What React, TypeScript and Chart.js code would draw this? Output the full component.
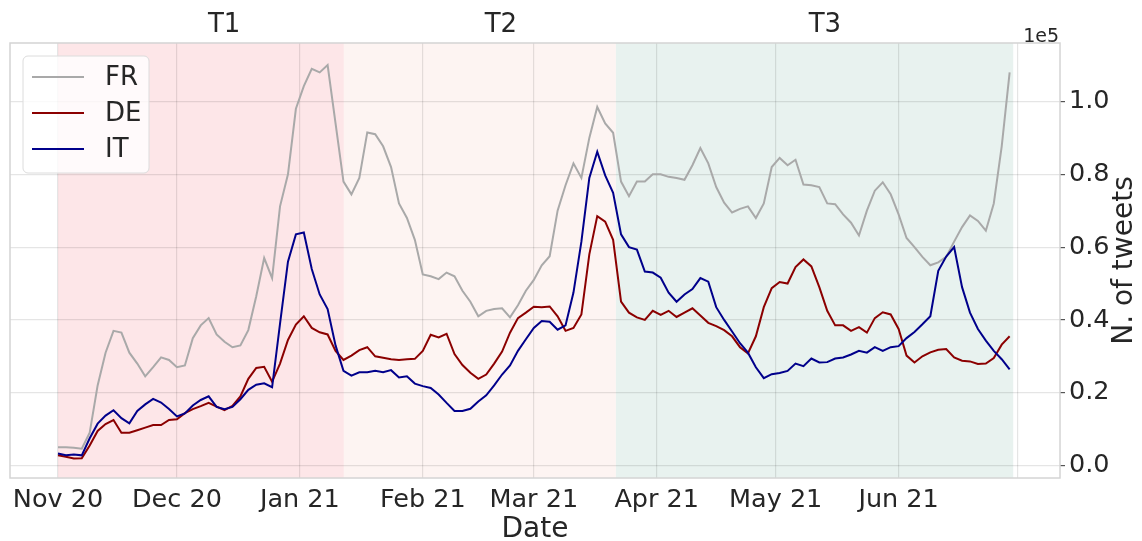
import React, { useEffect, useRef } from "react";
import { Chart, registerables } from "chart.js";

Chart.register(...registerables);

// Days since 1 Nov 2020, sampled every 2 days (values in units of 1e5 tweets)
const DAY_STEP = 2;

const FR = [
  0.050, 0.050, 0.049, 0.046, 0.090, 0.220, 0.310, 0.370, 0.365, 0.310,
  0.280, 0.245, 0.270, 0.297, 0.290, 0.270, 0.275, 0.350, 0.385, 0.405,
  0.360, 0.340, 0.325, 0.330, 0.372, 0.465, 0.570, 0.515, 0.712, 0.800,
  0.980, 1.042, 1.090, 1.080, 1.100, 0.940, 0.780, 0.745, 0.790, 0.915,
  0.910, 0.877, 0.820, 0.720, 0.680, 0.620, 0.525, 0.520, 0.512, 0.530,
  0.520, 0.480, 0.450, 0.410, 0.425, 0.430, 0.432, 0.407, 0.440, 0.480,
  0.510, 0.550, 0.575, 0.700, 0.770, 0.830, 0.790, 0.900, 0.985, 0.940,
  0.914, 0.780, 0.740, 0.780, 0.780, 0.800, 0.800, 0.793, 0.790, 0.785,
  0.825, 0.872, 0.830, 0.765, 0.722, 0.695, 0.705, 0.712, 0.680, 0.720,
  0.820, 0.845, 0.825, 0.840, 0.772, 0.770, 0.765, 0.720, 0.718, 0.690,
  0.667, 0.632, 0.700, 0.755, 0.778, 0.745, 0.690, 0.625, 0.600, 0.573,
  0.550, 0.558, 0.573, 0.615, 0.655, 0.687, 0.672, 0.645, 0.720, 0.877,
  1.080,
];

const DE = [
  0.028, 0.024, 0.019, 0.020, 0.055, 0.095, 0.114, 0.125, 0.090, 0.090,
  0.097, 0.104, 0.111, 0.111, 0.125, 0.127, 0.144, 0.155, 0.163, 0.172,
  0.162, 0.152, 0.164, 0.190, 0.238, 0.268, 0.271, 0.230, 0.280, 0.345,
  0.387, 0.410, 0.378, 0.366, 0.360, 0.315, 0.290, 0.302, 0.317, 0.325,
  0.300, 0.296, 0.292, 0.290, 0.292, 0.293, 0.315, 0.359, 0.352, 0.362,
  0.306, 0.276, 0.255, 0.238, 0.250, 0.280, 0.313, 0.365, 0.405, 0.420,
  0.436, 0.435, 0.437, 0.410, 0.370, 0.378, 0.415, 0.580, 0.685, 0.670,
  0.620, 0.450, 0.420, 0.407, 0.400, 0.425, 0.414, 0.425, 0.408, 0.420,
  0.432, 0.412, 0.392, 0.383, 0.372, 0.355, 0.325, 0.308, 0.355, 0.435,
  0.487, 0.504, 0.500, 0.545, 0.566, 0.547, 0.490, 0.425, 0.385, 0.385,
  0.370, 0.380, 0.365, 0.405, 0.421, 0.415, 0.375, 0.302, 0.283, 0.300,
  0.311, 0.318, 0.320, 0.297, 0.288, 0.286, 0.279, 0.280, 0.295, 0.332,
  0.355,
];

const IT = [
  0.033, 0.028, 0.030, 0.028, 0.075, 0.115, 0.137, 0.152, 0.130, 0.116,
  0.150, 0.168, 0.183, 0.173, 0.155, 0.135, 0.143, 0.165, 0.180, 0.190,
  0.161, 0.155, 0.161, 0.182, 0.208, 0.222, 0.226, 0.215, 0.390, 0.560,
  0.635, 0.640, 0.540, 0.470, 0.430, 0.330, 0.260, 0.247, 0.256, 0.256,
  0.260, 0.256, 0.262, 0.242, 0.245, 0.225, 0.218, 0.213, 0.195, 0.172,
  0.150, 0.150, 0.156, 0.176, 0.193, 0.220, 0.250, 0.275, 0.315, 0.347,
  0.378, 0.397, 0.395, 0.373, 0.385, 0.475, 0.615, 0.790, 0.862, 0.797,
  0.749, 0.635, 0.600, 0.593, 0.533, 0.530, 0.516, 0.475, 0.450, 0.470,
  0.485, 0.515, 0.505, 0.435, 0.400, 0.368, 0.336, 0.310, 0.270, 0.240,
  0.251, 0.254, 0.260, 0.280, 0.273, 0.294, 0.283, 0.284, 0.294, 0.297,
  0.305, 0.315, 0.310, 0.325, 0.315, 0.325, 0.328, 0.350, 0.367, 0.388,
  0.410, 0.535, 0.574, 0.600, 0.490, 0.420, 0.375, 0.343, 0.315, 0.292,
  0.264,
];

const SERIES_NAMES = ["FR", "DE", "IT"];
const SERIES_COLORS = ["#a9a9a9", "#8b0000", "#00008b"];

// Month ticks (days since 1 Nov 2020)
const MONTH_DAYS = [0, 30, 61, 92, 120, 151, 181, 212, 242];
const MONTH_LABELS = ["Nov 20", "Dec 20", "Jan 21", "Feb 21", "Mar 21", "Apr 21", "May 21", "Jun 21", ""];

const Y_TICKS = [0, 0.2, 0.4, 0.6, 0.8, 1.0];

// Shaded periods
const PERIOD_NAMES = ["T1", "T2", "T3"];
const PERIOD_STARTS = [0, 72.1, 140.7];
const PERIOD_ENDS = [72.1, 140.7, 240.9];
const PERIOD_COLORS = ["#fde6e8", "#fdf4f2", "#e8f2ef"];
const PERIOD_LABEL_DAYS = [41.9, 111.7, 193.4];

const X_MIN = -12.1;
const X_MAX = 252.7;
const Y_MIN = -0.0343;
const Y_MAX = 1.1607;

const FONT = "'DejaVu Sans', sans-serif";
const TEXT = "#262626";

const toPoints = (arr: number[]) => arr.map((v, i) => ({ x: i * DAY_STEP, y: v }));

const decor = {
  id: "decor",
  beforeDraw(chart: any) {
    const { ctx, chartArea: a } = chart;
    const x = chart.scales.x;
    ctx.save();
    ctx.fillStyle = "#ffffff";
    ctx.fillRect(0, 0, chart.width, chart.height);
    ctx.beginPath();
    ctx.rect(a.left, a.top, a.right - a.left, a.bottom - a.top);
    ctx.clip();
    PERIOD_STARTS.forEach((s, i) => {
      const x0 = x.getPixelForValue(s);
      const x1 = x.getPixelForValue(PERIOD_ENDS[i]);
      ctx.fillStyle = PERIOD_COLORS[i];
      ctx.fillRect(x0, a.top, x1 - x0, a.bottom - a.top);
    });
    ctx.restore();
  },
  afterDraw(chart: any) {
    const { ctx, chartArea: a } = chart;
    const x = chart.scales.x;
    ctx.save();
    // spines
    ctx.strokeStyle = "#d4d4d4";
    ctx.lineWidth = 1.5;
    ctx.strokeRect(a.left, a.top, a.right - a.left, a.bottom - a.top);

    // period labels
    ctx.fillStyle = TEXT;
    ctx.font = `26px ${FONT}`;
    ctx.textAlign = "center";
    ctx.textBaseline = "alphabetic";
    PERIOD_NAMES.forEach((n, i) => {
      ctx.fillText(n, x.getPixelForValue(PERIOD_LABEL_DAYS[i]), 32);
    });

    // offset text
    ctx.font = `19px ${FONT}`;
    ctx.textAlign = "right";
    ctx.fillText("1e5", a.right - 1, a.top - 1);

    // x title
    ctx.font = `28px ${FONT}`;
    ctx.textAlign = "center";
    ctx.fillText("Date", (a.left + a.right) / 2, 537);

    // y title (right side, reading upward)
    ctx.save();
    ctx.translate(1125, (a.top + a.bottom) / 2);
    ctx.rotate(-Math.PI / 2);
    ctx.textBaseline = "middle";
    ctx.fillText("N. of tweets", 0, 0);
    ctx.restore();

    // legend
    const lx = a.left + 13;
    const ly = a.top + 13;
    const lw = 126;
    const lh = 117;
    ctx.beginPath();
    if (ctx.roundRect) ctx.roundRect(lx, ly, lw, lh, 5);
    else ctx.rect(lx, ly, lw, lh);
    ctx.fillStyle = "rgba(255,255,255,0.8)";
    ctx.fill();
    ctx.strokeStyle = "#dcdcdc";
    ctx.lineWidth = 1;
    ctx.stroke();
    ctx.font = `26px ${FONT}`;
    ctx.textAlign = "left";
    ctx.textBaseline = "middle";
    SERIES_NAMES.forEach((n, i) => {
      const yy = ly + 21 + i * 36;
      ctx.strokeStyle = SERIES_COLORS[i];
      ctx.lineWidth = 2;
      ctx.beginPath();
      ctx.moveTo(lx + 9, yy);
      ctx.lineTo(lx + 61, yy);
      ctx.stroke();
      ctx.fillStyle = TEXT;
      ctx.fillText(n, lx + 82, yy + 1);
    });
    ctx.restore();
  },
};

export default function App() {
  const ref = useRef<HTMLCanvasElement>(null);
  useEffect(() => {
    if (!ref.current) return;
    const seriesArrays = [FR, DE, IT];
    const chart = new Chart(ref.current, {
      type: "line",
      data: {
        datasets: seriesArrays.map((arr, i) => ({
          label: SERIES_NAMES[i],
          data: toPoints(arr),
          borderColor: SERIES_COLORS[i],
          backgroundColor: SERIES_COLORS[i],
          borderWidth: 2,
          pointRadius: 0,
          tension: 0,
          fill: false,
          order: 3 - i,
        })),
      },
      options: {
        responsive: false,
        animation: false,
        devicePixelRatio: 1,
        layout: { padding: { top: 43, left: 10, right: 0, bottom: 0 } },
        plugins: { legend: { display: false }, tooltip: { enabled: false } },
        scales: {
          x: {
            type: "linear",
            min: X_MIN,
            max: X_MAX,
            afterBuildTicks: (s: any) => {
              s.ticks = MONTH_DAYS.map((v) => ({ value: v }));
            },
            afterFit: (s: any) => {
              s.height = 63;
            },
            ticks: {
              autoSkip: false,
              maxRotation: 0,
              padding: 7,
              color: TEXT,
              font: { family: FONT, size: 25.5 },
              callback: (v: any) => {
                const idx = MONTH_DAYS.indexOf(Number(v));
                return idx >= 0 ? MONTH_LABELS[idx] : "";
              },
            },
            grid: { color: "rgba(0,0,0,0.1)", lineWidth: 1.2, drawTicks: false },
            border: { display: false },
          },
          y: {
            type: "linear",
            position: "right",
            min: Y_MIN,
            max: Y_MAX,
            afterBuildTicks: (s: any) => {
              s.ticks = Y_TICKS.map((v) => ({ value: v }));
            },
            afterFit: (s: any) => {
              s.width = 82;
            },
            ticks: {
              padding: 4,
              color: TEXT,
              font: { family: FONT, size: 25.5 },
              callback: (v: any) => Number(v).toFixed(1),
            },
            grid: {
              color: "rgba(0,0,0,0.1)",
              lineWidth: 1.2,
              drawTicks: true,
              tickLength: 5,
              tickColor: "#555555",
            },
            border: { display: false },
          },
        },
      },
      plugins: [decor],
    });
    return () => chart.destroy();
  }, []);
  return (
    <div style={{ position: "absolute", left: 0, top: 0, width: 1142, height: 541, background: "#fff" }}>
      <canvas ref={ref} width={1142} height={541} style={{ display: "block", width: 1142, height: 541 }} />
    </div>
  );
}
